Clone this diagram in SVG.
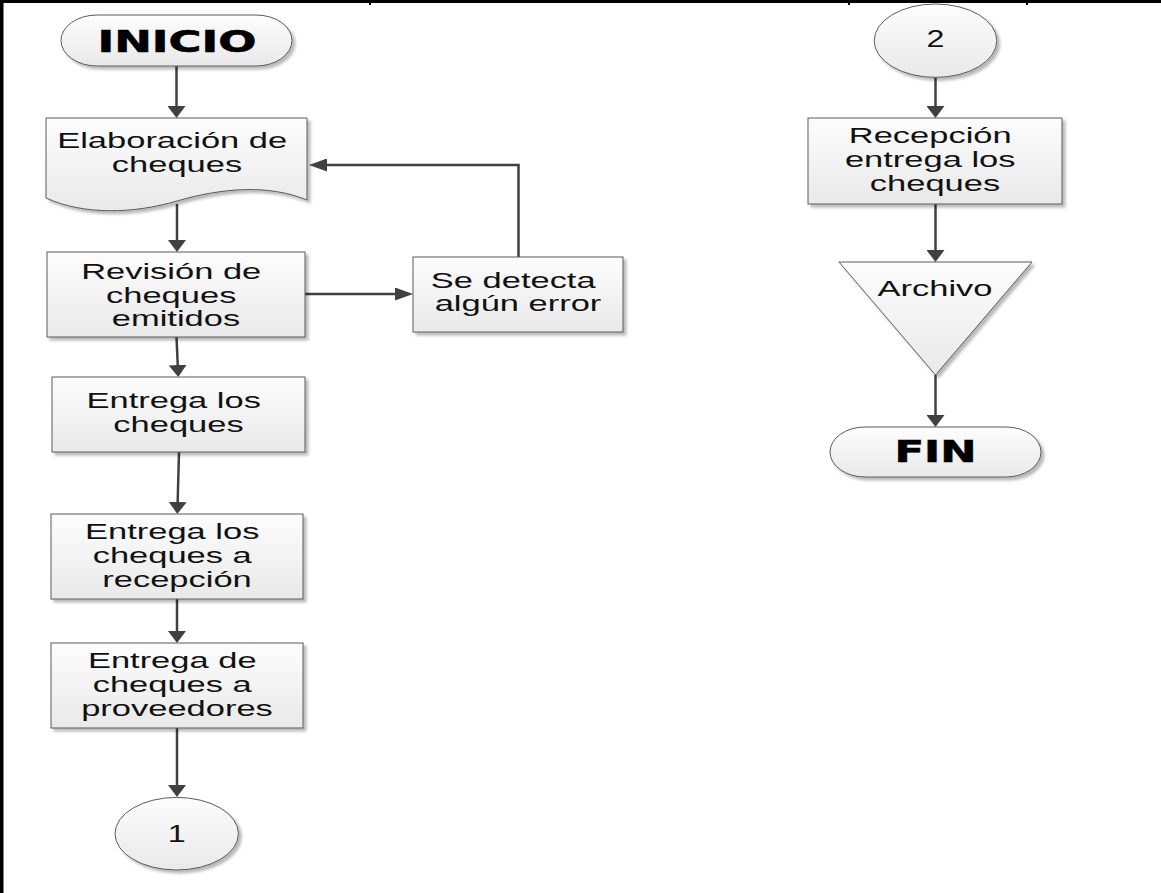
<svg xmlns="http://www.w3.org/2000/svg" width="1161" height="893" viewBox="0 0 1161 893">
  <style>
    .shape { fill: url(#fillGrad); stroke: #5a5a5a; stroke-width: 1; filter: url(#shadow); }
    .lbl { font-family: "Liberation Sans", Arial, sans-serif; font-size: 23px; fill: #111; text-anchor: middle; }
    .big { font-family: "DejaVu Sans", "Liberation Sans", sans-serif; font-weight: bold; font-size: 31px; fill: #000; stroke: #000; stroke-width: 0.6; text-anchor: middle; }
    .conn { fill: none; stroke: #404040; stroke-width: 2.5; }
    .v { marker-end: url(#arrowV); }
    .h { marker-end: url(#arrowH); }
  </style>
  <defs>
    <linearGradient id="fillGrad" x1="0" y1="0" x2="0" y2="1">
      <stop offset="0" stop-color="#fdfdfd"/>
      <stop offset="1" stop-color="#e9e9e9"/>
    </linearGradient>
    <filter id="shadow" x="-10%" y="-10%" width="130%" height="140%">
      <feGaussianBlur in="SourceAlpha" stdDeviation="1.5"/>
      <feOffset dx="3" dy="3" result="off"/>
      <feComponentTransfer><feFuncA type="linear" slope="0.28"/></feComponentTransfer>
      <feMerge><feMergeNode/><feMergeNode in="SourceGraphic"/></feMerge>
    </filter>
    <!-- arrowhead for vertical runs: wide and short -->
    <marker id="arrowV" markerUnits="userSpaceOnUse" viewBox="0 0 12 18" markerWidth="12" markerHeight="18" refX="6" refY="9" orient="auto">
      <path d="M0,0 L12,9 L0,18 Z" fill="#404040"/>
    </marker>
    <!-- arrowhead for horizontal runs: long and narrow -->
    <marker id="arrowH" markerUnits="userSpaceOnUse" viewBox="0 0 18 13" markerWidth="18" markerHeight="13" refX="9" refY="6.5" orient="auto">
      <path d="M0,0 L18,6.5 L0,13 Z" fill="#404040"/>
    </marker>
  </defs>

  <rect width="1161" height="893" fill="#fff"/>

  <!-- frame -->
  <g id="frame" fill="#000">
    <rect x="0" y="0" width="1161" height="3"/>
    <rect x="0" y="0" width="3.5" height="893"/>
    <rect x="369" y="0" width="2" height="5"/>
    <rect x="848" y="0" width="2" height="5"/>
    <rect x="1026" y="0" width="2" height="5"/>
  </g>

  <!-- connectors -->
  <g id="connectors">
    <path class="conn v" d="M176.5,66 V112"/>
    <path class="conn v" d="M177,204 V246"/>
    <path class="conn h" d="M305,294 H404"/>
    <path class="conn h" d="M518.5,257 V165 H318"/>
    <path class="conn v" d="M176.5,337 L178,371"/>
    <path class="conn v" d="M179,452 L177.5,508"/>
    <path class="conn v" d="M177,599 V637"/>
    <path class="conn v" d="M177,728 V791"/>
    <path class="conn v" d="M935.5,77 V112"/>
    <path class="conn v" d="M935.5,204 V256"/>
    <path class="conn v" d="M935.5,375 V421"/>
  </g>

  <g id="inicio">
    <rect class="shape" x="61" y="15" width="231" height="51" rx="36" ry="25.5"/>
    <text class="big" transform="translate(177,0) scale(1.45,1)" x="0" y="52">INICIO</text>
  </g>

  <g id="elaboracion">
    <path class="shape" d="M46,118 H307 V200 C268,184 222,188 177,201 C132,214 84,215 46,198 Z"/>
    <text class="lbl" transform="translate(177,0) scale(1.5,1)">
      <tspan x="0" y="148.5">Elaboración de</tspan>
      <tspan x="0" y="172">cheques</tspan>
    </text>
  </g>

  <g id="revision">
    <rect class="shape" x="47" y="252" width="258" height="85"/>
    <text class="lbl" transform="translate(176,0) scale(1.5,1)">
      <tspan x="0" y="279.5">Revisión de</tspan>
      <tspan x="0" y="303">cheques</tspan>
      <tspan x="0" y="326.5">emitidos</tspan>
    </text>
  </g>

  <g id="error">
    <rect class="shape" x="413" y="257" width="210" height="75"/>
    <text class="lbl" transform="translate(518,0) scale(1.5,1)">
      <tspan x="0" y="288">Se detecta</tspan>
      <tspan x="0" y="311.5">algún error</tspan>
    </text>
  </g>

  <g id="entrega">
    <rect class="shape" x="52" y="377" width="253" height="75"/>
    <text class="lbl" transform="translate(178.5,0) scale(1.5,1)">
      <tspan x="0" y="408.5">Entrega los</tspan>
      <tspan x="0" y="432">cheques</tspan>
    </text>
  </g>

  <g id="entrega-recepcion">
    <rect class="shape" x="51" y="514" width="252" height="85"/>
    <text class="lbl" transform="translate(177,0) scale(1.5,1)">
      <tspan x="0" y="539">Entrega los</tspan>
      <tspan x="0" y="563">cheques a</tspan>
      <tspan x="0" y="587.5">recepción</tspan>
    </text>
  </g>

  <g id="entrega-proveedores">
    <rect class="shape" x="51" y="643" width="252" height="85"/>
    <text class="lbl" transform="translate(177,0) scale(1.5,1)">
      <tspan x="0" y="668">Entrega de</tspan>
      <tspan x="0" y="692">cheques a</tspan>
      <tspan x="0" y="716">proveedores</tspan>
    </text>
  </g>

  <g id="conector-1">
    <ellipse class="shape" cx="176.7" cy="833.7" rx="61.7" ry="36.3"/>
    <text class="lbl" transform="translate(176.7,0) scale(1.4,1)" x="0" y="841.7">1</text>
  </g>

  <g id="conector-2">
    <ellipse class="shape" cx="935.5" cy="40.7" rx="61.3" ry="36.7"/>
    <text class="lbl" transform="translate(935.5,0) scale(1.4,1)" x="0" y="47.5">2</text>
  </g>

  <g id="recepcion">
    <rect class="shape" x="808" y="118" width="254" height="86"/>
    <text class="lbl" transform="translate(935,0) scale(1.5,1)">
      <tspan x="0" y="143">Recepción</tspan>
      <tspan x="0" y="167">entrega los</tspan>
      <tspan x="0" y="191.5">cheques</tspan>
    </text>
  </g>

  <g id="archivo">
    <path class="shape" d="M839,262 H1032 L935.5,375 Z"/>
    <text class="lbl" transform="translate(935,0) scale(1.5,1)" x="0" y="296">Archivo</text>
  </g>

  <g id="fin">
    <rect class="shape" x="830" y="427" width="211" height="50" rx="35" ry="25"/>
    <text class="big" transform="translate(935.5,0) scale(1.4,1)" x="0" y="462">FIN</text>
  </g>
</svg>
